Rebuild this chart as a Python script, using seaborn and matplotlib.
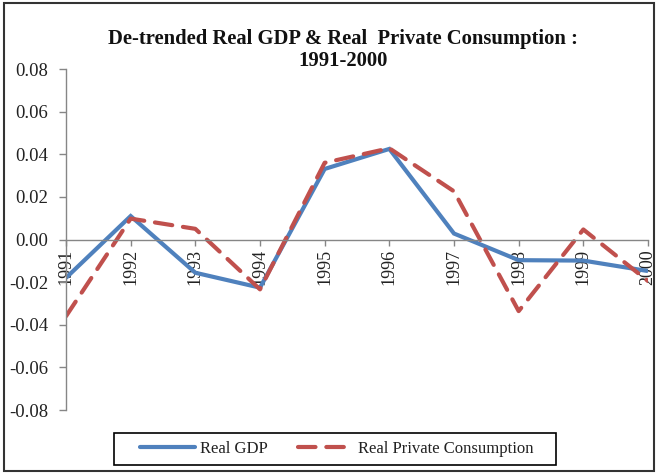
import matplotlib
matplotlib.use("Agg")
import matplotlib.pyplot as plt
import seaborn as sns
import pandas as pd
from matplotlib.patches import Rectangle
from matplotlib.lines import Line2D

# De-trended series, 1991-2000
years = [1991, 1992, 1993, 1994, 1995, 1996, 1997, 1998, 1999, 2000]
real_gdp = [-0.018, 0.011, -0.0156, -0.0226, 0.0331, 0.0425, 0.0028, -0.0097, -0.0099, -0.0148]
real_consumption = [-0.036, 0.0098, 0.005, -0.0234, 0.036, 0.0428, 0.0226, -0.0336, 0.0047, -0.0195]
y_ticks = [-0.08, -0.06, -0.04, -0.02, 0.00, 0.02, 0.04, 0.06, 0.08]

title = "De-trended Real GDP & Real  Private Consumption :\n1991-2000"
gdp_label = "Real GDP"
cons_label = "Real Private Consumption"

sns.set_theme(style="white")
plt.rcParams["font.family"] = ["Liberation Serif", "DejaVu Serif"]

blue = "#4F81BD"
red = "#C0504D"
axis_grey = "#868686"
dash = (0, (4.2, 2.6))

df = pd.DataFrame({"year": years, "gdp": real_gdp, "cons": real_consumption})

fig = plt.figure(figsize=(6.57, 4.73), dpi=100)
ax = fig.add_axes([66 / 657, 1 - 410 / 473, (648 - 66) / 657, (410 - 69) / 473])

sns.lineplot(data=df, x="year", y="gdp", ax=ax, color=blue, linewidth=3.0,
             solid_joinstyle="miter", solid_capstyle="butt")
sns.lineplot(data=df, x="year", y="cons", ax=ax, color=red, linewidth=3.0,
             linestyle=dash, dash_capstyle="round")

ax.set_xlim(years[0], years[-1])
ax.set_ylim(y_ticks[0], y_ticks[-1])
ax.set_xlabel("")
ax.set_ylabel("")

# y axis on the left, category axis crossing at zero
for side in ["top", "right"]:
    ax.spines[side].set_visible(False)
ax.spines["left"].set_color(axis_grey)
ax.spines["left"].set_linewidth(1.0)
ax.spines["bottom"].set_position(("data", 0))
ax.spines["bottom"].set_color(axis_grey)
ax.spines["bottom"].set_linewidth(1.0)

ax.set_yticks(y_ticks)
ax.set_yticklabels([f"{v:.2f}" for v in y_ticks])
ax.set_xticks(years)
ax.set_xticklabels([str(y) for y in years], rotation=90)

ax.tick_params(axis="y", direction="out", length=5, width=1.0, color=axis_grey,
               pad=8, labelsize=13.5, labelcolor="#222222", left=True)
ax.tick_params(axis="x", direction="out", length=4, width=1.0, color=axis_grey,
               pad=3, labelsize=13, labelcolor="#222222", bottom=True)

fig.text(343 / 657, 1 - 50 / 473, title, ha="center", va="center",
         fontsize=14.9, fontweight="bold", color="#111111", linespacing=1.1)

# legend entries, with a plain box drawn around them
handles = [
    Line2D([], [], color=blue, linewidth=3.0, solid_capstyle="round"),
    Line2D([], [], color=red, linewidth=3.0, linestyle=dash, dash_capstyle="round"),
]
leg = fig.legend(handles, [gdp_label, cons_label], loc="center",
                 bbox_to_anchor=(337 / 657, 1 - 449 / 473), ncol=2,
                 frameon=False, fontsize=12, handlelength=3.3, handletextpad=0.3,
                 columnspacing=1.8, borderpad=0.3, borderaxespad=0)
for t in leg.get_texts():
    t.set_color("#222222")
fig.patches.append(Rectangle((114 / 657, 1 - 465 / 473), (556 - 114) / 657, 32 / 473,
                             transform=fig.transFigure, fill=False,
                             edgecolor="black", linewidth=1.2))

# outer chart border
fig.patches.append(Rectangle((4 / 657, 2 / 473), 650 / 657, 468 / 473, transform=fig.transFigure,
                             fill=False, edgecolor="#333333", linewidth=1.5))

fig.savefig("out.png", dpi=100)
